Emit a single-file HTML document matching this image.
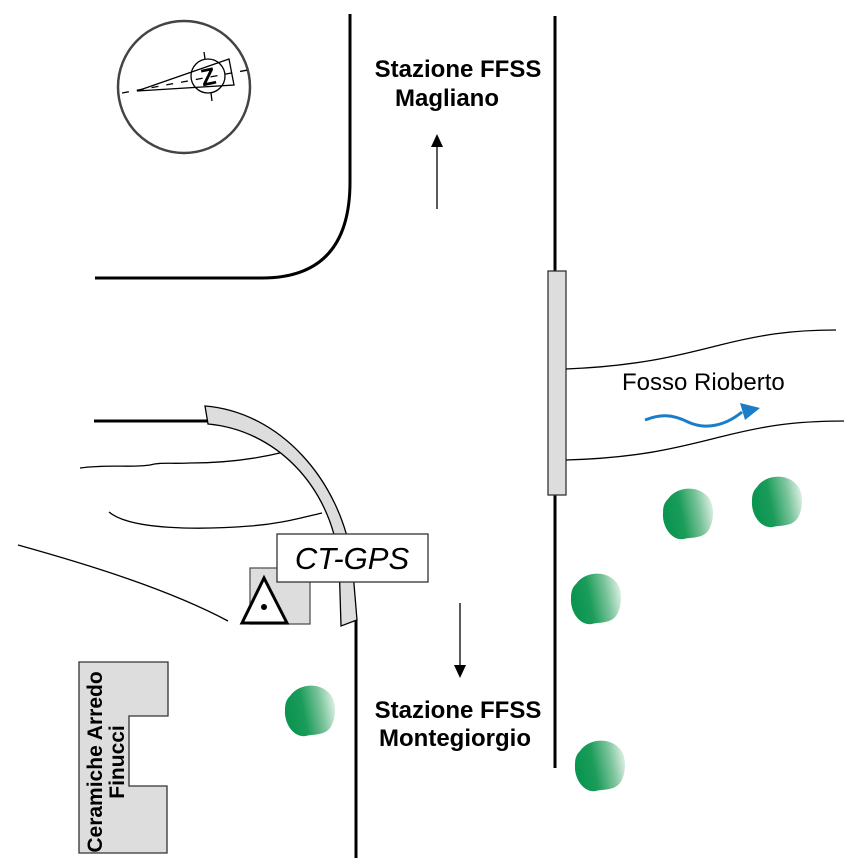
<!DOCTYPE html>
<html><head><meta charset="utf-8"><style>
html,body{margin:0;padding:0;background:#fff;}
svg{display:block;}
text{font-family:"Liberation Sans",Arial,sans-serif;}
</style></head><body>
<svg width="866" height="866" viewBox="0 0 866 866" xmlns="http://www.w3.org/2000/svg">
<defs>
<linearGradient id="tg" x1="0" y1="0.2" x2="1" y2="0">
<stop offset="0" stop-color="#0a9550"/><stop offset="0.3" stop-color="#1c9c5a"/><stop offset="0.65" stop-color="#7cc49c"/><stop offset="1" stop-color="#f4faf6"/>
</linearGradient>
<g id="tree"><path d="M-20,-14 C-12,-26 8,-28 18,-18 C28,-10 26,10 20,18 C14,26 2,24 -4,26 C-16,28 -26,14 -25,0 C-25,-6 -24,-10 -20,-14 Z" fill="url(#tg)"/></g>
</defs>

<!-- compass -->
<circle cx="184" cy="87" r="66" fill="none" stroke="#444" stroke-width="2.5"/>
<line x1="122" y1="93" x2="248" y2="70" stroke="#000" stroke-width="1.3" stroke-dasharray="7,8"/>
<polygon points="137,91 229,59 234,85" fill="none" stroke="#000" stroke-width="1.3"/>
<circle cx="208" cy="76" r="17" fill="none" stroke="#000" stroke-width="1.3"/>
<line x1="204" y1="52" x2="205" y2="59" stroke="#000" stroke-width="1.3"/>
<line x1="211" y1="93" x2="212" y2="101" stroke="#000" stroke-width="1.3"/>
<text x="208" y="85" font-size="24" font-weight="bold" text-anchor="middle" transform="rotate(-12 208 76)">Z</text>

<!-- top-left road -->
<path d="M350,14 L350,182 Q350,278 262,278 L95,278" fill="none" stroke="#000" stroke-width="3"/>

<!-- Magliano -->
<text x="458" y="77" font-size="24" font-weight="bold" text-anchor="middle">Stazione FFSS</text>
<text x="447" y="106" font-size="24" font-weight="bold" text-anchor="middle">Magliano</text>
<line x1="437" y1="209" x2="437" y2="145" stroke="#000" stroke-width="1.3"/>
<polygon points="437,134 431,147 443,147" fill="#000"/>

<!-- main vertical road -->
<line x1="555" y1="16" x2="555" y2="768" stroke="#000" stroke-width="3"/>
<rect x="548" y="271" width="18" height="224" fill="#ddd" stroke="#333" stroke-width="1.3"/>

<!-- river -->
<path d="M566,369 C640,366 680,355 720,345 C760,335 790,330 836,330" fill="none" stroke="#000" stroke-width="1.3"/>
<path d="M566,460 C640,458 680,447 720,437 C760,427 790,421 844,421" fill="none" stroke="#000" stroke-width="1.3"/>
<text x="622" y="390" font-size="24">Fosso Rioberto</text>
<path d="M645,420 C660,414 672,414 688,422 C705,430 725,426 742,412" fill="none" stroke="#1a7dc8" stroke-width="3"/>
<polygon points="760,408 740,403 745,420" fill="#1a7dc8"/>

<!-- trees -->
<use href="#tree" x="688" y="513"/>
<use href="#tree" x="777" y="501"/>
<use href="#tree" x="596" y="598"/>
<use href="#tree" x="310" y="710"/>
<use href="#tree" x="600" y="765"/>

<!-- left lines -->
<line x1="94" y1="421" x2="207" y2="421" stroke="#000" stroke-width="3"/>
<path d="M80,468 C110,464 130,468 150,465 C160,462 170,464 190,463 C230,463 260,458 284,452" fill="none" stroke="#000" stroke-width="1.3"/>
<path d="M109,512 C130,530 200,530 250,526 C280,524 300,518 322,513" fill="none" stroke="#000" stroke-width="1.3"/>
<path d="M18,545 C90,565 170,590 228,621" fill="none" stroke="#000" stroke-width="1.3"/>

<!-- curved band -->
<path d="M205,406 C280,412 340,480 352,560 L357,620 L341,626 L339,560 C330,485 275,430 208,424 Z" fill="#ddd" stroke="#000" stroke-width="1.3"/>
<line x1="356" y1="620" x2="356" y2="858" stroke="#000" stroke-width="3"/>

<!-- GPS -->
<rect x="250" y="568" width="60" height="56" fill="#ddd" stroke="#555" stroke-width="1.3"/>
<polygon points="264,578 242,623 287,623" fill="#fff" stroke="#000" stroke-width="3"/>
<circle cx="264" cy="607" r="3" fill="#000"/>
<rect x="277" y="534" width="151" height="48" fill="#fff" stroke="#333" stroke-width="1.3"/>
<text x="352" y="569" font-size="31" font-style="italic" text-anchor="middle">CT-GPS</text>

<!-- Montegiorgio -->
<line x1="460" y1="603" x2="460" y2="665" stroke="#000" stroke-width="1.3"/>
<polygon points="460,678 454,665 466,665" fill="#000"/>
<text x="458" y="718" font-size="24" font-weight="bold" text-anchor="middle">Stazione FFSS</text>
<text x="455" y="746" font-size="24" font-weight="bold" text-anchor="middle">Montegiorgio</text>

<!-- building -->
<polygon points="79,662 168,662 168,716 129,716 129,786 167,786 167,853 79,853" fill="#ddd" stroke="#333" stroke-width="1.3"/>
<text x="0" y="0" font-size="21" font-weight="bold" text-anchor="middle" transform="translate(102,762) rotate(-90)">Ceramiche Arredo</text>
<text x="0" y="0" font-size="21" font-weight="bold" text-anchor="middle" transform="translate(124,762) rotate(-90)">Finucci</text>
</svg>
</body></html>
